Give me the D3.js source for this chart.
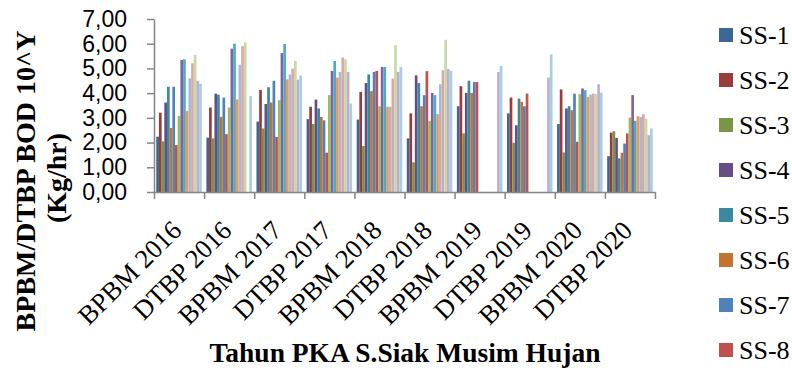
<!DOCTYPE html>
<html>
<head>
<meta charset="utf-8">
<script src="https://cdnjs.cloudflare.com/ajax/libs/d3/7.8.5/d3.min.js"></script>
<style>
  body { margin: 0; background: #fff; }
  svg { display: block; }
</style>
</head>
<body>
<div id="chart"></div>
<script>
// values (Kg/hr), one list per category, SS-1 .. SS-17
const categories = ["BPBM 2016", "DTBP 2016", "BPBM 2017", "DTBP 2017", "BPBM 2018",
                    "DTBP 2018", "BPBM 2019", "DTBP 2019", "BPBM 2020", "DTBP 2020"];
const seriesNames = ["SS-1", "SS-2", "SS-3", "SS-4", "SS-5", "SS-6", "SS-7", "SS-8", "SS-9",
                     "SS-10", "SS-11", "SS-12", "SS-13", "SS-14", "SS-15", "SS-16", "SS-17"];

const bpbm2016 = [2.24, 3.21, 2.05, 3.62, 4.26, 2.59, 4.26, 1.90, 3.08, 5.34, 5.37, 3.28, 4.60, 5.21, 5.55, 4.50, 4.38];
const dtbp2016 = [2.20, 3.42, 2.17, 3.98, 3.94, 3.04, 3.82, 2.34, 3.42, 5.80, 6.00, 3.75, 5.15, 5.90, 6.06, 0.00, 3.88];
const bpbm2017 = [2.85, 4.13, 2.57, 3.56, 4.24, 3.62, 4.50, 2.23, 3.71, 5.62, 5.99, 4.56, 4.76, 4.99, 5.30, 4.55, 4.72];
const dtbp2017 = [2.95, 3.45, 2.75, 3.74, 3.38, 3.04, 2.90, 1.59, 3.92, 4.90, 5.30, 4.63, 4.86, 5.44, 5.36, 4.86, 3.58];
const bpbm2018 = [2.93, 4.05, 1.86, 4.41, 4.76, 4.08, 4.86, 4.90, 3.47, 5.06, 5.06, 3.45, 3.45, 4.59, 5.94, 4.86, 5.06];
const dtbp2018 = [2.17, 3.18, 1.20, 4.72, 4.41, 3.47, 3.92, 4.89, 2.88, 4.01, 3.92, 3.15, 4.36, 4.93, 6.16, 4.97, 4.90];
const bpbm2019 = [3.47, 4.28, 2.37, 4.01, 4.50, 4.01, 4.45, 4.45, 0, 0, 0, 0, 0, 0, 0, 4.86, 5.10];
const dtbp2019 = [3.18, 3.82, 1.99, 2.70, 3.78, 3.65, 3.47, 3.98, 0, 0, 0, 0, 0, 0, 0, 4.63, 5.57];
const bpbm2020 = [2.75, 4.15, 1.60, 3.38, 3.47, 3.31, 3.98, 2.03, 3.96, 4.19, 4.12, 3.85, 3.94, 3.98, 3.96, 4.36, 4.01];
const dtbp2020 = [1.45, 2.40, 2.46, 2.19, 1.36, 1.59, 1.96, 2.37, 3.01, 3.92, 2.88, 3.07, 3.04, 3.15, 2.97, 2.30, 2.57];

const groupValues = [bpbm2016, dtbp2016, bpbm2017, dtbp2017, bpbm2018,
                     dtbp2018, bpbm2019, dtbp2019, bpbm2020, dtbp2020];

const yTicks = [0, 1, 2, 3, 4, 5, 6, 7];
const legendShown = 8; // the legend box only has room for SS-1 .. SS-8

// excel-ish palette: darker, normal, lighter bands
const colors = ["#3C6696", "#983B39", "#7A9546", "#654E86", "#3A899E", "#C4732F",
                "#4F81BD", "#C0504D", "#9BBB59", "#8064A2", "#4BACC6", "#F79646",
                "#A4B9DC", "#DDA7A5", "#C9D8A6", "#BCAED0", "#A8CFE0"];

class groupedBarChart {

    constructor () {
        this.width = 792;
        this.height = 368;
        this.plot = {left: 154, right: 655, top: 19, bottom: 192};

        this.svg = d3.select("#chart").append("svg")
            .attr("width", this.width)
            .attr("height", this.height);

        this.x0 = d3.scaleBand()
            .domain(categories)
            .range([this.plot.left, this.plot.right])
            .padding(0);
        this.x1 = d3.scaleBand()
            .domain(seriesNames)
            .range([0, this.x0.bandwidth()])
            .paddingInner(0)
            .paddingOuter(0.85);
        this.y = d3.scaleLinear()
            .domain([0, 7])
            .range([this.plot.bottom, this.plot.top]);
        this.color = d3.scaleOrdinal().domain(seriesNames).range(colors);

        this.drawBars();
        this.drawAxes();
        this.drawTitles();
        this.drawLegend();
    }

    drawBars () {
        let groups = this.svg.append("g").attr("class", "bars")
            .selectAll("g")
            .data(categories)
            .enter().append("g")
            .attr("transform", (d) => "translate(" + this.x0(d) + ",0)");

        groups.selectAll("rect")
            .data((d, i) => seriesNames.map((s, j) => ({series: s, value: groupValues[i][j]})))
            .enter().append("rect")
            .filter((d) => d.value > 0)
            .attr("x", (d) => this.x1(d.series))
            .attr("width", this.x1.bandwidth())
            .attr("y", (d) => this.y(d.value))
            .attr("height", (d) => this.y(0) - this.y(d.value))
            .attr("fill", (d) => this.color(d.series));
    }

    drawAxes () {
        let fmt = (d) => d3.format(".2f")(d).replace(".", ",");

        let yAxis = this.svg.append("g")
            .attr("transform", "translate(" + this.plot.left + ",0)")
            .call(d3.axisLeft(this.y).tickValues(yTicks).tickFormat(fmt)
                .tickSize(7).tickSizeOuter(0).tickPadding(20));
        yAxis.selectAll("text")
            .attr("font-family", "'Liberation Sans', Arial, sans-serif")
            .attr("font-size", 23)
            .attr("fill", "#000");

        // category boundaries get the tick marks, like excel does
        let xb = d3.scaleLinear().domain([0, categories.length])
            .range([this.plot.left, this.plot.right]);
        this.svg.append("g")
            .attr("transform", "translate(0," + this.plot.bottom + ")")
            .call(d3.axisBottom(xb).tickValues(d3.range(categories.length + 1))
                .tickFormat("").tickSize(7).tickSizeOuter(0));

        this.svg.selectAll(".domain, .tick line")
            .attr("stroke", "#868686")
            .attr("stroke-width", 1.5);

        this.svg.append("g").attr("class", "xlabels")
            .selectAll("text")
            .data(categories)
            .enter().append("text")
            .attr("transform", (d) => "translate(" + (this.x0(d) + this.x0.bandwidth() / 2 + 4) + ",232) rotate(-45)")
            .attr("text-anchor", "end")
            .attr("font-family", "'Liberation Serif', 'Times New Roman', serif")
            .attr("font-size", 26.5)
            .text((d) => d);
    }

    drawTitles () {
        let serif = "'Liberation Serif', 'Times New Roman', serif";
        let yTitle = this.svg.append("g")
            .attr("font-family", serif)
            .attr("font-weight", "bold")
            .attr("font-size", 28)
            .attr("text-anchor", "middle");
        yTitle.append("text")
            .attr("transform", "translate(35,181) rotate(-90)")
            .text("BPBM/DTBP BOD 10^Y");
        yTitle.append("text")
            .attr("transform", "translate(66,178) rotate(-90)")
            .text("(Kg/hr)");

        this.svg.append("text")
            .attr("x", 405)
            .attr("y", 362)
            .attr("text-anchor", "middle")
            .attr("font-family", serif)
            .attr("font-weight", "bold")
            .attr("font-size", 27.5)
            .text("Tahun PKA S.Siak Musim Hujan");
    }

    drawLegend () {
        let items = this.svg.append("g").attr("class", "legend")
            .selectAll("g")
            .data(seriesNames.slice(0, legendShown))
            .enter().append("g")
            .attr("transform", (d, i) => "translate(719," + (28 + i * 45) + ")");
        items.append("rect")
            .attr("width", 14)
            .attr("height", 14)
            .attr("fill", (d) => this.color(d));
        items.append("text")
            .attr("x", 20)
            .attr("y", 16)
            .attr("font-family", "'Liberation Serif', 'Times New Roman', serif")
            .attr("font-size", 26)
            .text((d) => d);
    }
}

new groupedBarChart();
</script>
</body>
</html>
